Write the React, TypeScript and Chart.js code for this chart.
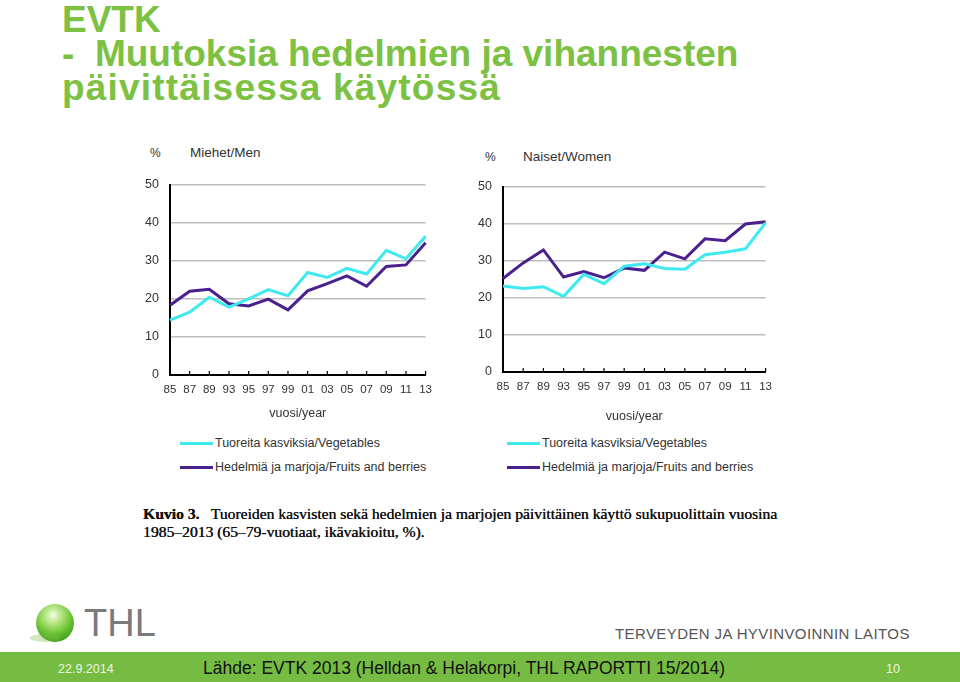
import React, { useEffect, useRef } from 'react';
import { Chart, registerables } from 'chart.js';

Chart.register(...registerables);

const years = ['85', '87', '89', '93', '95', '97', '99', '01', '03', '05', '07', '09', '11', '13'];
const menVegetables = [14.4, 16.5, 20.4, 17.8, 20.0, 22.4, 20.8, 26.9, 25.6, 28.0, 26.5, 32.7, 30.5, 36.4];
const menFruits = [18.3, 22.0, 22.5, 18.7, 18.1, 19.9, 17.1, 22.1, 24.0, 26.0, 23.3, 28.5, 28.9, 34.7];
const womenVegetables = [23.2, 22.5, 23.0, 20.4, 26.3, 23.8, 28.5, 29.2, 27.9, 27.7, 31.6, 32.3, 33.2, 40.2];
const womenFruits = [25.2, 29.4, 32.9, 25.6, 27.1, 25.4, 28.0, 27.4, 32.3, 30.5, 35.9, 35.4, 39.9, 40.5];
const yMin = 0;
const yMax = 50;
const yStep = 10;
const vegLabel = 'Tuoreita kasviksia/Vegetables';
const fruitLabel = 'Hedelmiä ja marjoja/Fruits and berries';
const xTitle = 'vuosi/year';

const CYAN = '#3ee9f0';
const PURPLE = '#4a1f8e';
const GREEN = '#7cc142';
const SANS = 'Arial, "Liberation Sans", sans-serif';
const SERIF = '"Times New Roman", "Liberation Serif", serif';

const innerTicks = {
  id: 'innerTicks',
  afterDraw(chart: any) {
    const xs = chart.scales.x;
    const ctx = chart.ctx;
    const b = chart.chartArea.bottom;
    ctx.save();
    ctx.strokeStyle = '#000';
    ctx.lineWidth = 1.2;
    for (let i = 1; i < xs.ticks.length; i++) {
      const px = xs.getPixelForTick(i);
      ctx.beginPath();
      ctx.moveTo(px, b);
      ctx.lineTo(px, b - 4);
      ctx.stroke();
    }
    ctx.restore();
  },
};

type PanelProps = {
  left: number;
  top: number;
  width: number;
  height: number;
  yWidth: number;
  xHeight: number;
  padRight: number;
  veg: number[];
  fruit: number[];
};

function Panel(p: PanelProps) {
  const ref = useRef<HTMLCanvasElement | null>(null);
  useEffect(() => {
    if (!ref.current) return;
    const chart = new Chart(ref.current, {
      type: 'line',
      data: {
        labels: years,
        datasets: [
          { label: vegLabel, data: p.veg, borderColor: CYAN, backgroundColor: CYAN, borderWidth: 3, pointRadius: 0, tension: 0 },
          { label: fruitLabel, data: p.fruit, borderColor: PURPLE, backgroundColor: PURPLE, borderWidth: 3, pointRadius: 0, tension: 0 },
        ],
      },
      options: {
        animation: false,
        responsive: false,
        layout: { padding: { top: 0, right: p.padRight, left: 0, bottom: 0 } },
        plugins: { legend: { display: false }, tooltip: { enabled: false } },
        scales: {
          x: {
            offset: false,
            grid: { display: false, drawTicks: false },
            border: { display: true, color: '#000', width: 2 },
            ticks: { color: '#333', font: { family: SANS, size: 11.5 }, padding: 8, maxRotation: 0, autoSkip: false },
            title: { display: true, text: xTitle, color: '#333', font: { family: SANS, size: 12.5 }, padding: { top: 4, bottom: 4 } },
            afterFit: (s: any) => { s.height = p.xHeight; },
          },
          y: {
            min: yMin,
            max: yMax,
            grid: { color: '#bdbdbd', lineWidth: 1.5, drawTicks: false },
            border: { display: true, color: '#000', width: 2 },
            ticks: { stepSize: yStep, color: '#333', font: { family: SANS, size: 12.5 }, padding: 11 },
            afterFit: (s: any) => { s.width = p.yWidth; },
          },
        },
      },
      plugins: [innerTicks],
    } as any);
    return () => chart.destroy();
  }, []);
  return (
    <canvas
      ref={ref}
      width={p.width}
      height={p.height}
      style={{ position: 'absolute', left: p.left, top: p.top, width: p.width, height: p.height }}
    />
  );
}

function Legend({ left, top }: { left: number; top: number }) {
  const row = (color: string, text: string, y: number) => (
    <div style={{ position: 'absolute', left, top: y, height: 14, display: 'flex', alignItems: 'center', whiteSpace: 'nowrap' }}>
      <span style={{ display: 'inline-block', width: 33, height: 3, background: color, marginRight: 2 }} />
      <span style={{ fontFamily: SANS, fontSize: 12.5, color: '#333', lineHeight: '14px' }}>{text}</span>
    </div>
  );
  return (
    <>
      {row(CYAN, vegLabel, top)}
      {row(PURPLE, fruitLabel, top + 24)}
    </>
  );
}

function abs(left: number, top: number, extra: React.CSSProperties = {}): React.CSSProperties {
  return { position: 'absolute', left, top, whiteSpace: 'pre', margin: 0, ...extra };
}

export default function App() {
  return (
    <div style={{ position: 'absolute', left: 0, top: 0, width: 960, height: 682, overflow: 'hidden', background: '#fff' }}>
      <div style={abs(62, 3, { fontFamily: SANS, fontWeight: 'bold', fontSize: 37, lineHeight: '34px', color: GREEN })}>
        {'EVTK\n-  Muutoksia hedelmien ja vihannesten\n'}
        <span style={{ letterSpacing: 1.2 }}>päivittäisessa käytössä</span>
      </div>

      <div style={abs(150, 145, { fontFamily: SANS, fontSize: 12, color: '#333', lineHeight: '16px' })}>%</div>
      <div style={abs(190, 145, { fontFamily: SANS, fontSize: 13.5, color: '#333', lineHeight: '16px' })}>Miehet/Men</div>
      <div style={abs(485, 149, { fontFamily: SANS, fontSize: 12, color: '#333', lineHeight: '16px' })}>%</div>
      <div style={abs(523, 149, { fontFamily: SANS, fontSize: 13.5, color: '#333', lineHeight: '16px' })}>Naiset/Women</div>

      <Panel left={140} top={166} width={300} height={259} yWidth={30} xHeight={50} padRight={13} veg={menVegetables} fruit={menFruits} />
      <Panel left={470} top={168} width={310} height={260} yWidth={33} xHeight={56} padRight={13} veg={womenVegetables} fruit={womenFruits} />

      <Legend left={180} top={436} />
      <Legend left={507} top={436} />

      <div style={abs(143, 505, { fontFamily: SERIF, fontSize: 15.6, color: '#111', lineHeight: '18px', textShadow: '0.35px 0 0 #111' })}>
        <b>Kuvio 3.</b>{'   Tuoreiden kasvisten sekä hedelmien ja marjojen päivittäinen käyttö sukupuolittain vuosina\n1985–2013 (65–79-vuotiaat, ikävakioitu, %).'}
      </div>

      <div
        style={{
          position: 'absolute', left: 36, top: 604, width: 38, height: 38, borderRadius: '50%',
          background: 'radial-gradient(circle at 45% 30%, #f4fbe8 0%, #c6ec98 18%, #74c83a 50%, #3f9d1c 80%, #2e7d12 100%)',
        }}
      />
      <div style={{ position: 'absolute', left: 30, top: 634, width: 30, height: 8, borderRadius: '50%', background: 'rgba(120,190,70,0.35)' }} />
      <div style={abs(84, 604, { fontFamily: SANS, fontSize: 38, lineHeight: '38px', color: '#7a7a7a' })}>THL</div>
      <div style={abs(615, 625, { fontFamily: SANS, fontSize: 15, lineHeight: '18px', color: '#555', letterSpacing: 0.4 })}>TERVEYDEN JA HYVINVOINNIN LAITOS</div>

      <div style={{ position: 'absolute', left: 0, top: 652, width: 960, height: 30, background: '#76bc43' }} />
      <div style={abs(58, 661, { fontFamily: SANS, fontSize: 12.5, lineHeight: '16px', color: '#eef6e4' })}>22.9.2014</div>
      <div style={abs(203, 657, { fontFamily: SANS, fontSize: 17.5, lineHeight: '22px', color: '#111' })}>Lähde: EVTK 2013 (Helldan &amp; Helakorpi, THL RAPORTTI 15/2014)</div>
      <div style={abs(886, 661, { fontFamily: SANS, fontSize: 12.5, lineHeight: '16px', color: '#eef6e4' })}>10</div>
    </div>
  );
}
